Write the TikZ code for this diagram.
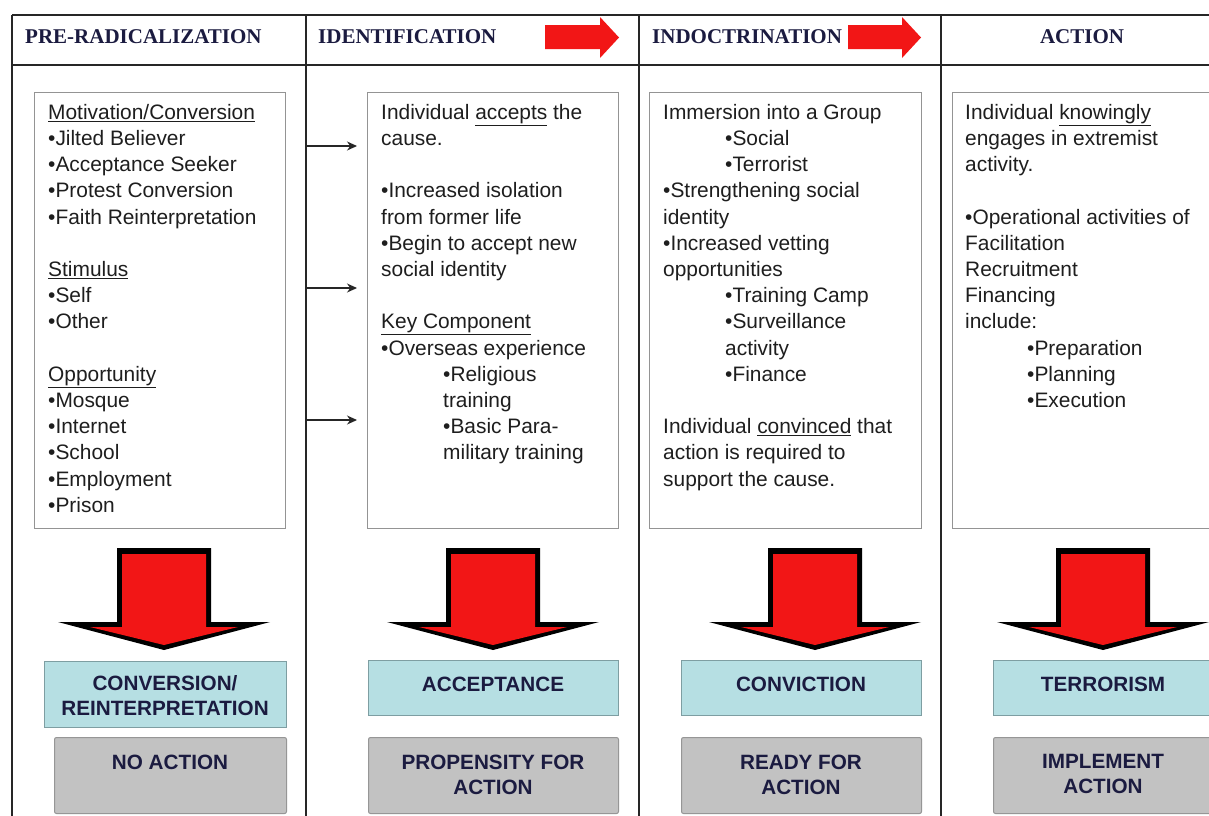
\documentclass[tikz,border=0pt]{standalone}
\usepackage{fontspec}
\setmainfont{Liberation Serif}
\setsansfont{Liberation Sans}
\usetikzlibrary{arrows.meta}
\definecolor{arrowred}{HTML}{F21616}
\definecolor{headnavy}{HTML}{1B1B40}
\definecolor{cyanfill}{HTML}{B6DFE3}
\definecolor{cyanline}{HTML}{7E9EA2}
\definecolor{grayfill}{HTML}{C2C2C2}
\definecolor{grayline}{HTML}{969696}
\definecolor{bodytext}{HTML}{1E1E1E}
\begin{document}
\begin{tikzpicture}[x=1pt,y=-1pt,
  rule/.style={line width=2.6pt, draw=black!85},
  textbox/.style={draw=black!42, line width=1.3pt, anchor=north west, inner sep=0pt},
  body/.style={font=\sffamily\fontsize{20.9}{26.2}\selectfont, text=bodytext, align=left, anchor=north west, inner sep=0pt},
  head/.style={font=\bfseries\fontsize{21}{24}\selectfont, text=headnavy, inner sep=0pt},
  resbox/.style={draw=cyanline, fill=cyanfill, line width=1pt, anchor=north west, inner sep=0pt},
  outbox/.style={draw=grayline, fill=grayfill, line width=1pt, rounded corners=2pt, anchor=north west, inner sep=0pt},
  lbl/.style={font=\sffamily\bfseries\fontsize{20.7}{25}\selectfont, text=headnavy, align=center, inner sep=0pt},
  link/.style={draw=black!85, line width=1.1pt, -{Stealth[length=10pt,width=9pt]}},
  ]
\useasboundingbox (0,0) rectangle (1209,815);
\clip (0,0) rectangle (1209,815);
\fill[white] (0,0) rectangle (1209,815);

% table rules
\draw[rule] (12,15) -- (1230,15);
\draw[rule] (12,65) -- (1230,65);
\foreach \xx in {12,306,639,941} { \draw[rule] (\xx,15) -- (\xx,830); }

% headers
\node[head, anchor=west] (h1) at (25,37) {PRE-RADICALIZATION};
\node[head, anchor=west] (h2) at (318,37) {IDENTIFICATION};
\node[head, anchor=west] (h3) at (652,37) {INDOCTRINATION};
\node[head] (h4) at (1082,37) {ACTION};
\fill[arrowred] (545,25) -- (600,25) -- (600,17) -- (619,37.5) -- (600,58) -- (600,49) -- (545,49) -- cycle;
\fill[arrowred] (848,25) -- (902,25) -- (902,17) -- (921,37.5) -- (902,58) -- (902,49) -- (848,49) -- cycle;

% inner text boxes
\node[textbox, minimum width=251, minimum height=436] (box1) at (34,92) {};
\node[textbox, minimum width=251, minimum height=436] (box2) at (367,92) {};
\node[textbox, minimum width=272, minimum height=436] (box3) at (649,92) {};
\node[textbox, minimum width=290, minimum height=436] (box4) at (952,92) {};

\node[body] (t1) at (48,104) {\underline{Motivation/Conversion}\\
•Jilted Believer\\
•Acceptance Seeker\\
•Protest Conversion\\
•Faith Reinterpretation\\[26.2pt]
\underline{Stimulus}\\
•Self\\
•Other\\[26.2pt]
\underline{Opportunity}\\
•Mosque\\
•Internet\\
•School\\
•Employment\\
•Prison};

\node[body] (t2) at (381,104) {Individual \underline{accepts} the\\
cause.\\[26.2pt]
•Increased isolation\\
from former life\\
•Begin to accept new\\
social identity\\[26.2pt]
\underline{Key Component}\\
•Overseas experience\\
\hspace*{62pt}•Religious\\
\hspace*{62pt}training\\
\hspace*{62pt}•Basic Para-\\
\hspace*{62pt}military training};

\node[body] (t3) at (663,104) {Immersion into a Group\\
\hspace*{62pt}•Social\\
\hspace*{62pt}•Terrorist\\
•Strengthening social\\
identity\\
•Increased vetting\\
opportunities\\
\hspace*{62pt}•Training Camp\\
\hspace*{62pt}•Surveillance\\
\hspace*{62pt}activity\\
\hspace*{62pt}•Finance\\[26.2pt]
Individual \underline{convinced} that\\
action is required to\\
support the cause.};

\node[body] (t4) at (965,104) {Individual \underline{knowingly}\\
engages in extremist\\
activity.\\[26.2pt]
•Operational activities of\\
Facilitation\\
Recruitment\\
Financing\\
include:\\
\hspace*{62pt}•Preparation\\
\hspace*{62pt}•Planning\\
\hspace*{62pt}•Execution};

% small arrows from column 1 to column 2
\coordinate (s1) at (306,146);
\coordinate (s2) at (306,288);
\coordinate (s3) at (306,420);
\draw[link] (s1) -- ([xshift=-10pt]box2.west |- s1);
\draw[link] (s2) -- ([xshift=-10pt]box2.west |- s2);
\draw[link] (s3) -- ([xshift=-10pt]box2.west |- s3);

% big down arrows
\foreach \c in {164,493,815,1103} {
  \fill[black] (\c-47,548) -- (\c+47,548) -- (\c+47,622) -- (\c+106,622) -- (\c,650) -- (\c-106,622) -- (\c-47,622) -- cycle;
  \fill[arrowred] (\c-42,554) -- (\c+42,554) -- (\c+42,627) -- (\c+74,627) -- (\c,645) -- (\c-74,627) -- (\c-42,627) -- cycle;
}

% result boxes
\node[resbox, minimum width=242, minimum height=66] (r1) at (44,661) {};
\node[resbox, minimum width=250, minimum height=55] (r2) at (368,660) {};
\node[resbox, minimum width=240, minimum height=55] (r3) at (681,660) {};
\node[resbox, minimum width=260, minimum height=55] (r4) at (993,660) {};
\node[lbl] (l1) at (165,696) {CONVERSION/\\REINTERPRETATION};
\node[lbl] (l2) at (493,684) {ACCEPTANCE};
\node[lbl] (l3) at (801,684) {CONVICTION};
\node[lbl] (l4) at (1103,684) {TERRORISM};

% outcome boxes
\node[outbox, minimum width=232, minimum height=76] (o1) at (54,737) {};
\node[outbox, minimum width=250, minimum height=76] (o2) at (368,737) {};
\node[outbox, minimum width=240, minimum height=76] (o3) at (681,737) {};
\node[outbox, minimum width=260, minimum height=76] (o4) at (993,737) {};
\node[lbl, anchor=north] (m1) at (170,754.5) {NO ACTION};
\node[lbl, anchor=north] (m2) at (493,754.5) {PROPENSITY FOR\\ACTION};
\node[lbl, anchor=north] (m3) at (801,754.5) {READY FOR\\ACTION};
\node[lbl, anchor=north] (m4) at (1103,754.5) {IMPLEMENT\\ACTION};
\end{tikzpicture}
\end{document}
